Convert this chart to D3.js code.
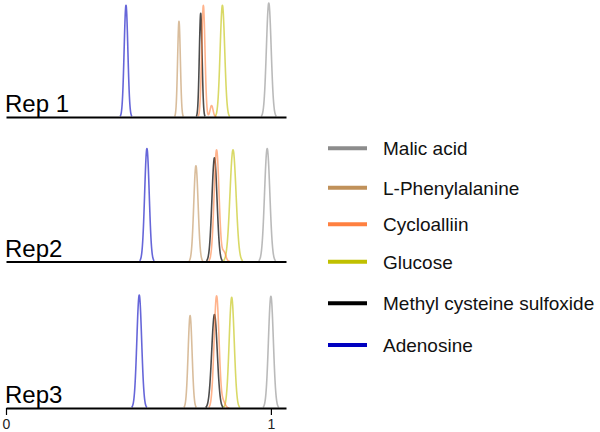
<!DOCTYPE html>
<html>
<head>
<meta charset="utf-8">
<script src="https://cdn.jsdelivr.net/npm/d3@7"></script>
<style>
  body { margin: 0; background: #fff; }
  svg { font-family: Arial, 'Liberation Sans', sans-serif; }
</style>
</head>
<body>
<svg id="chart" width="600" height="432"></svg>
<script>
// compounds in legend order
const compounds = ['Malic acid', 'L-Phenylalanine', 'Cycloalliin', 'Glucose', 'Methyl cysteine sulfoxide', 'Adenosine'];
const reps = ['Rep 1', 'Rep2', 'Rep3'];

// peak apex position (retention, 0..1), per rep, in compound order
const rep1Pos = [0.992, 0.653, 0.745, 0.817, 0.735, 0.453];
const rep2Pos = [0.986, 0.717, 0.795, 0.857, 0.787, 0.532];
const rep3Pos = [1.000, 0.695, 0.795, 0.852, 0.787, 0.503];

// relative peak height
const rep1Height = [1.00, 0.84, 0.98, 0.98, 0.91, 0.98];
const rep2Height = [0.99, 0.84, 0.98, 0.98, 0.91, 0.99];
const rep3Height = [0.98, 0.81, 0.985, 0.97, 0.82, 0.99];

// peak width (sigma)
const rep1Width = [0.0090, 0.0052, 0.0062, 0.0086, 0.0052, 0.0070];
const rep2Width = [0.0100, 0.0082, 0.0093, 0.0115, 0.0096, 0.0086];
const rep3Width = [0.0093, 0.0075, 0.0093, 0.0096, 0.0105, 0.0090];

// small secondary Cycloalliin peak [position, height, width] per rep
const cycloShoulder = [[0.776, 0.10, 0.0057], [0.823, 0.08, 0.0070], [0.821, 0.05, 0.0070]];

const colors = ['#8c8c8c', '#c0915a', '#ff8040', '#c0c000', '#000000', '#0000c0'];

const svg = d3.select('#chart');

const x = d3.scaleLinear().domain([0, 1.057]).range([6, 286]);
const baselines = [117, 261.5, 408];
const peakPx = 114;

const repData = [
  { pos: rep1Pos, h: rep1Height, w: rep1Width },
  { pos: rep2Pos, h: rep2Height, w: rep2Width },
  { pos: rep3Pos, h: rep3Height, w: rep3Width },
];

// drawing order so orange sits over black like the original
const drawOrder = [5, 4, 3, 2, 1, 0];

const gauss = (t, c, h, s) => h * Math.exp(-((t - c) ** 2) / (2 * s * s));

repData.forEach((rd, r) => {
  const y = d3.scaleLinear().domain([0, 1]).range([baselines[r], baselines[r] - peakPx]);
  const g = svg.append('g');

  drawOrder.forEach((i) => {
    const c = rd.pos[i], s = rd.w[i], h = rd.h[i];
    let lo = c - 3.2 * s, hi = c + 3.2 * s;
    const sh = cycloShoulder[r];
    if (i === 2) hi = Math.max(hi, sh[0] + 3.2 * sh[2]);
    const pts = d3.range(lo, hi, (hi - lo) / 80).concat([hi]).map((t) => {
      let v = gauss(t, c, h, s);
      if (i === 2) v += gauss(t, sh[0], sh[1], sh[2]);
      return [t, v];
    });
    g.append('path')
      .attr('d', d3.line().x((d) => x(d[0])).y((d) => y(d[1])).curve(d3.curveMonotoneX)(pts))
      .attr('fill', 'none')
      .attr('stroke', colors[i])
      .attr('stroke-opacity', i === 4 ? 0.7 : 0.6)
      .attr('stroke-width', 1.6);
  });

  const axis = d3.axisBottom(x);
  if (r === 2) axis.tickValues([0, 1]).tickFormat(d3.format('d')).tickSize(7);
  else axis.tickValues([]);
  axis.tickSizeOuter(0);

  const ax = svg.append('g')
    .attr('transform', `translate(0,${baselines[r]})`)
    .call(axis);
  ax.select('.domain').attr('stroke', '#000').attr('stroke-width', 2);
  ax.selectAll('.tick line').attr('stroke', '#000').attr('stroke-width', 1.2);
  ax.selectAll('.tick text')
    .style('font-size', '14px')
    .style('font-family', 'Arial, Liberation Sans, sans-serif')
    .attr('fill', '#222')
    .attr('dy', '0.75em');

  svg.append('text')
    .attr('x', 5)
    .attr('y', baselines[r] - 5)
    .attr('font-size', 24)
    .attr('fill', '#000')
    .text(reps[r]);
});

// legend
const legendY = [148.3, 187.7, 224.3, 261.7, 303.3, 345];
const legend = svg.append('g');
compounds.forEach((name, i) => {
  legend.append('line')
    .attr('x1', 328).attr('x2', 367)
    .attr('y1', legendY[i]).attr('y2', legendY[i])
    .attr('stroke', colors[i])
    .attr('stroke-width', 4);
  legend.append('text')
    .attr('x', 383)
    .attr('y', legendY[i] + 7)
    .attr('font-size', 19)
    .attr('fill', '#111')
    .text(name);
});
</script>
</body>
</html>
